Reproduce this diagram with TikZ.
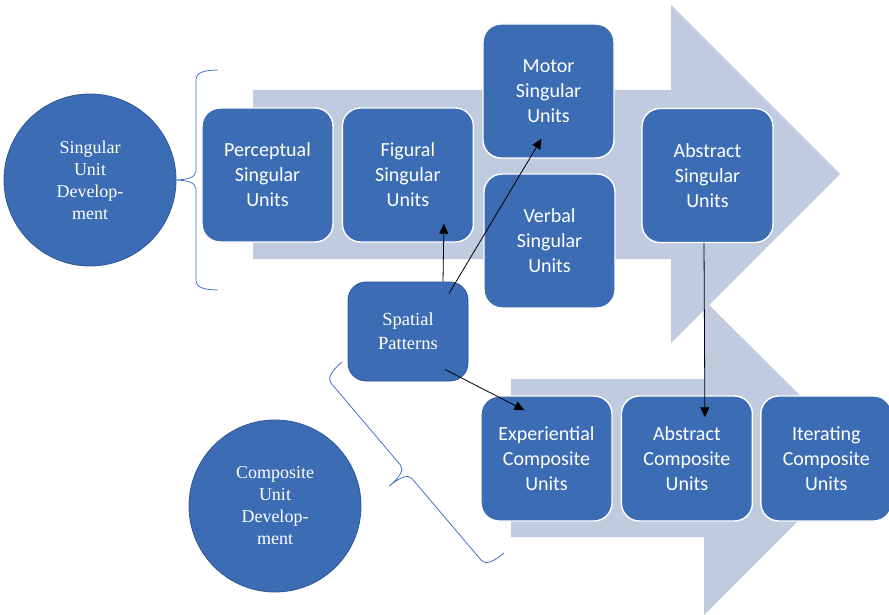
\documentclass[tikz,border=0pt]{standalone}
\usepackage{fontspec}
\setmainfont{Liberation Serif}
\newfontfamily\unitfont{Carlito}
\usetikzlibrary{arrows.meta, positioning, calc}
\definecolor{cuBlue}{HTML}{3C6DB4}
\definecolor{cuDark}{HTML}{2F5597}
\definecolor{cuPale}{HTML}{C0CBE0}
\definecolor{cuBrace}{HTML}{4472C4}
\tikzset{
  unit/.style={
    rectangle, rounded corners=18pt, fill=cuBlue, draw=white,
    line width=1.4pt, text=white, align=center, inner sep=2pt,
    font=\unitfont\fontsize{20}{25}\selectfont,
    minimum width=131pt, minimum height=134pt
  },
  lowunit/.style={unit, minimum height=125pt},
  pattern box/.style={unit, draw=cuDark, line width=0.8pt,
    font=\rmfamily\fontsize{18.5}{24}\selectfont,
    minimum width=120pt, minimum height=99pt},
  phase/.style={
    circle, fill=cuBlue, draw=cuDark, line width=0.8pt,
    text=white, align=center, minimum size=172pt, inner sep=0pt,
    font=\rmfamily\fontsize{18}{22}\selectfont
  },
  band/.style={fill=cuPale},
  bracket/.style={draw=cuBrace, line width=0.8pt},
  link/.style={-{Triangle[length=10pt, width=9pt]}, line width=0.8pt, draw=black},
}
% curly bracket in a local frame: x points to the tip, y runs along it
\newcommand\curly[1]{%
  \draw[bracket] (0,-#1) .. controls (14,-#1) and (22,-#1+3) .. (22,-#1+9)
    -- (22,-9) .. controls (22,-3) and (30,0) .. (44,0)
    .. controls (30,0) and (22,3) .. (22,9)
    -- (22,#1-9) .. controls (22,#1-3) and (14,#1) .. (0,#1);}
\begin{document}
\begin{tikzpicture}[x=1pt, y=-1pt]
  \useasboundingbox (0,0) rectangle (889,615);
  % background arrows
  \fill[band] (253,90) -- (671,90) -- (671,5) -- (840,174) -- (671,343)
    -- (671,259) -- (253,259) -- cycle;
  \fill[band] (511,379) -- (704,379) -- (704,300) -- (862,457) -- (704,615)
    -- (704,537) -- (511,537) -- cycle;

  % singular units
  \node[unit] (per) at (267.5,175) {Perceptual\\Singular\\Units};
  \node[unit, right=8pt of per] (fig) {Figural\\Singular\\Units};
  \node[unit] (mot) at (548.5,91) {Motor\\Singular\\Units};
  \node[unit] (ver) at (549.5,241) {Verbal\\Singular\\Units};
  \node[unit] (as) at (707.5,175.5) {Abstract\\Singular\\Units};
  \node[pattern box] (sp) at (408,331.5) {Spatial\\Patterns};

  % composite units
  \node[lowunit] (exp) at (546.5,458.5) {Experiential\\Composite\\Units};
  \node[lowunit, right=8pt of exp] (ac) {Abstract\\Composite\\Units};
  \node[lowunit, right=7pt of ac] (it) {Iterating\\Composite\\Units};

  % phases
  \node[phase] (sud) at (90,180) {Singular\\Unit\\Develop-\\ment};
  \node[phase] (cud) at (275,506) {Composite\\Unit\\Develop-\\ment};
  \begin{scope}[shift={(218,180)}, x={(-1pt,0pt)}, y={(0pt,-1pt)}]
    \curly{110}
  \end{scope}
  \begin{scope}[shift={(423,457.5)}, x={(-0.764pt,-0.648pt)}, y={(0.648pt,-0.764pt)}]
    \curly{125}
  \end{scope}

  \draw[link] ([xshift=35pt]sp.north) -- ([xshift=36pt, yshift=19pt]fig.south);
  \draw[link] ([xshift=41pt, yshift=38pt]sp.center) -- ([xshift=-7pt, yshift=20pt]mot.south);
  \draw[link] ([xshift=37pt, yshift=-38pt]sp.center) -- ([xshift=-22pt, yshift=-15pt]exp.north);
  \draw[link] ([xshift=-3.5pt]as.south) -- ([xshift=18pt, yshift=-22pt]ac.north);
\end{tikzpicture}
\end{document}
